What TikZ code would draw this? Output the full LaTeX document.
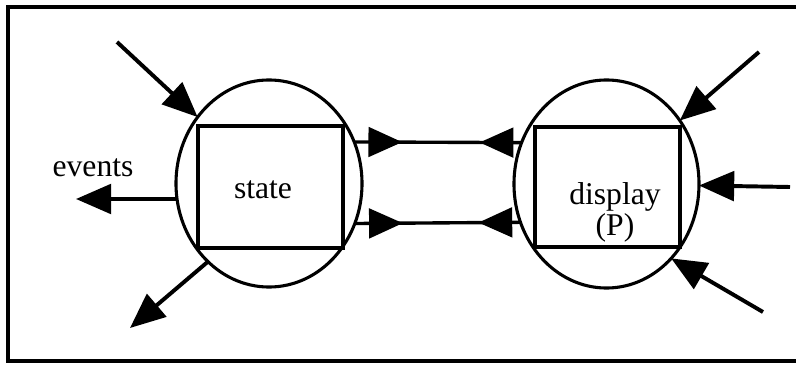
\documentclass[tikz,border=0pt]{standalone}
\usepackage{fontspec}
\setmainfont{Liberation Serif}
\usetikzlibrary{shapes, arrows.meta, positioning, decorations.markings}
\tikzset{
    ring/.style={ellipse, draw, line width=2.2pt, outer sep=0pt, inner sep=0pt},
    panel/.style={rectangle, draw, line width=2.2pt, minimum width=3.625cm, outer sep=0pt, inner sep=0pt},
    txt/.style={font=\fontsize{22.5}{22}\selectfont, align=center},
    arrow/.style={-{Triangle[length=25pt, width=21pt]}, line width=2.8pt},
    link/.style={line width=2.4pt, postaction={decorate}, decoration={markings,
        mark=at position 1.2cm with {\arrow{Triangle[length=24pt, width=21pt]}},
        mark=at position -1.05cm with {\arrowreversed{Triangle[length=24pt, width=21pt]}}}},
    frame/.style={line width=2.4pt}
}

\begin{document}
\begin{tikzpicture}[x=0.025cm, y=-0.025cm]
    \useasboundingbox (0,0) rectangle (796,367);
    \draw[frame] (796,7) -- (8,7) -- (8,361) -- (796,361);

    % State side
    \node[ring, minimum width=4.65cm, minimum height=5.175cm] (stateRing) at (269,183.5) {};
    \node[panel, minimum height=3.05cm] (stateBox) at (270.5,187) {};
    \node[txt] (stateTxt) at (263,190) {state};
    \node[txt] (eventsTxt) at (93,168) {events};

    % Display side
    \node[ring, minimum width=4.625cm, minimum height=5.2cm] (displayRing) at (606.5,184) {};
    \node[panel, minimum height=3.0cm] (displayBox) at (607.5,187) {};
    \node[txt] (displayTxt) at (615,212) {display\\(P)};

    % Loose ends
    \coordinate (inTL) at (117,42);
    \coordinate (evOut) at (76,199);
    \coordinate (outBL) at (130,328);
    \coordinate (inTR) at (759,52);
    \coordinate (inR) at (790,187);
    \coordinate (inBR) at (763,312);

    % Connections
    \draw[arrow] (inTL) -- (stateRing);
    \draw[arrow] (stateRing.west |- evOut) -- (evOut);
    \draw[arrow] (stateRing.232) -- (outBL);
    \draw[arrow] (inTR) -- (displayRing);
    \draw[arrow] (inR) -- (displayRing);
    \draw[arrow] (inBR) -- (displayRing.311);
    \draw[link] (stateRing.26) -- (displayRing.154);
    \draw[link] (stateRing.335) -- (displayRing.204);
\end{tikzpicture}
\end{document}
